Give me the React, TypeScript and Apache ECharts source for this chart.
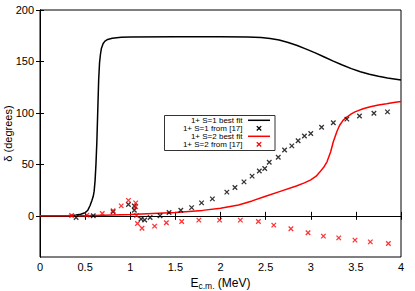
import React, { useEffect, useRef } from "react";
import * as echarts from "echarts";

const xTicks = [0, 0.5, 1, 1.5, 2, 2.5, 3, 3.5, 4];
const yTicks = [0, 50, 100, 150, 200];

const s1Fit: number[][] = [
  [0, 0], [0.3, 0.2], [0.4, 0.8], [0.45, 1.5], [0.5, 3], [0.53, 5.5], [0.555, 10], [0.575, 15],
  [0.59, 19], [0.6, 24], [0.61, 34], [0.62, 50], [0.63, 72], [0.64, 102], [0.65, 132],
  [0.66, 149], [0.67, 157], [0.68, 162.5], [0.7, 167.5], [0.72, 169.8], [0.75, 171.4],
  [0.8, 172.6], [0.9, 173.5], [1.0, 173.8], [1.5, 174], [2.0, 174], [2.3, 173.8], [2.45, 173.2],
  [2.55, 172.3], [2.65, 170.8], [2.75, 168.5], [2.85, 165.5], [2.95, 162], [3.05, 158.3],
  [3.15, 154.3], [3.25, 150.3], [3.35, 146.5], [3.45, 143], [3.55, 140], [3.65, 137.6],
  [3.75, 135.6], [3.85, 134], [4.0, 132],
];

const s1Data: number[][] = [
  [0.4, -1.6], [0.59, 0], [0.81, 4], [0.98, 11], [1.045, 9.5], [1.045, 5.5], [1.12, -3],
  [1.16, -4], [1.22, -1.6], [1.33, 0], [1.43, 3.3], [1.56, 5.5], [1.68, 8], [1.79, 12.6],
  [1.91, 16.5], [2.07, 23], [2.16, 27.6], [2.26, 33], [2.35, 38.6], [2.43, 43.5], [2.49, 46],
  [2.54, 52], [2.64, 57], [2.71, 64], [2.79, 68], [2.86, 73], [2.93, 77.5], [3.0, 80],
  [3.12, 86], [3.25, 90.5], [3.4, 94], [3.54, 97], [3.7, 99.6], [3.85, 101],
];

const s2Fit: number[][] = [
  [0, 0], [0.5, 0.2], [1.0, 1.3], [1.5, 3.3], [1.8, 5.3], [2.0, 7.3], [2.2, 10.5], [2.35, 14.5],
  [2.5, 19], [2.67, 24], [2.84, 29], [2.93, 32], [3.0, 35], [3.06, 38.5], [3.1, 42.5],
  [3.15, 48], [3.18, 52.5], [3.22, 62], [3.25, 72], [3.29, 82], [3.32, 88], [3.36, 93],
  [3.4, 96], [3.45, 99], [3.49, 101], [3.58, 104], [3.66, 106], [3.75, 107.7], [3.84, 109],
  [3.92, 110.2], [4.0, 111],
];

const s2Data: number[][] = [
  [0.35, 0.4], [0.52, 0.7], [0.69, 2.3], [0.81, 5], [0.9, 9.7], [0.98, 15], [1.06, 12.6],
  [1.06, 8.8], [1.07, 0.4], [1.08, -7.4], [1.13, -12], [1.27, -10], [1.4, -6.8], [1.57, -5.5],
  [1.76, -4.2], [1.99, -4.2], [2.22, -4.2], [2.42, -5.5], [2.59, -9], [2.78, -12.6],
  [2.97, -16.5], [3.14, -19.7], [3.31, -21.4], [3.49, -23.6], [3.66, -25.3], [3.86, -26.9],
];

const legendLabels = ["1+ S=1 best fit", "1+ S=1 from [17]", "1+ S=2 best fit", "1+ S=2 from [17]"];

const FONT = "Liberation Sans, Arial, sans-serif";
const CROSS = "path://M0,0L10,10M10,0L0,10";

function crossGraphic(cx: number, cy: number, color: string) {
  const r = 2.2;
  return [
    { type: "line", shape: { x1: cx - r, y1: cy - r, x2: cx + r, y2: cy + r }, style: { stroke: color, lineWidth: 1.3 } },
    { type: "line", shape: { x1: cx - r, y1: cy + r, x2: cx + r, y2: cy - r }, style: { stroke: color, lineWidth: 1.3 } },
  ];
}

export default function App() {
  const ref = useRef<HTMLDivElement>(null);
  useEffect(() => {
    if (!ref.current) return;
    const chart = echarts.init(ref.current, null, { renderer: "svg" });
    const rows = [120.3, 128.3, 136.3, 144.3];
    const colors = ["#000", "#000", "#ff0000", "#ff0000"];
    const legendEls: any[] = [
      { type: "rect", shape: { x: 164.5, y: 115.5, width: 110.5, height: 35 }, style: { fill: "#fff", stroke: "#333", lineWidth: 1 } },
    ];
    legendLabels.forEach((t, i) => {
      legendEls.push({
        type: "text", x: 242.5, y: rows[i],
        style: { text: t, fill: "#000", font: `8px ${FONT}`, textAlign: "right", textVerticalAlign: "middle" },
      });
      if (i % 2 === 0) {
        legendEls.push({ type: "line", shape: { x1: 248, y1: rows[i], x2: 270, y2: rows[i] }, style: { stroke: colors[i], lineWidth: 1.5 } });
      } else {
        legendEls.push(...crossGraphic(259, rows[i], colors[i]));
      }
    });
    legendEls.push({
      type: "text", x: 8, y: 133.5, rotation: Math.PI / 2,
      style: { text: "δ (degrees)", fill: "#000", font: `11px ${FONT}`, textAlign: "center", textVerticalAlign: "middle" },
    });

    const tickStyle = { show: true, inside: true, length: 4, lineStyle: { color: "#000" } };
    chart.setOption({
      animation: false,
      grid: {
        left: 40, right: 14, top: 10, bottom: 34, show: true, borderColor: "#000", borderWidth: 1,
        containLabel: false, outerBoundsMode: "none",
      },
      xAxis: [
        {
          type: "value", min: 0, max: 4, interval: 0.5, position: "bottom",
          axisLine: { show: true, lineStyle: { color: "#000" } },
          axisTick: tickStyle, splitLine: { show: false },
          axisLabel: { color: "#000", fontFamily: FONT, fontSize: 11, margin: 4 },
          name: "{a|E}{s|c.m.}{a| (MeV)}", nameLocation: "middle", nameGap: 15,
          nameTextStyle: {
            rich: {
              a: { fontFamily: FONT, fontSize: 12, color: "#000" },
              s: { fontFamily: FONT, fontSize: 8.5, color: "#000", verticalAlign: "bottom", padding: [7, 0, 0, 0] },
            },
          },
        },
        {
          type: "value", min: 0, max: 4, interval: 0.5, position: "top",
          axisLine: { show: true, lineStyle: { color: "#000" } },
          axisTick: tickStyle, axisLabel: { show: false }, splitLine: { show: false },
        },
      ],
      yAxis: [
        {
          type: "value", min: -40, max: 200, position: "left",
          axisLine: { show: true, lineStyle: { color: "#000" } },
          axisTick: { ...tickStyle, customValues: yTicks },
          splitLine: { show: false },
          axisLabel: { color: "#000", fontFamily: FONT, fontSize: 11, margin: 6, customValues: yTicks },
        },
        {
          type: "value", min: -40, max: 200, position: "right",
          axisLine: { show: true, lineStyle: { color: "#000" } },
          axisTick: { ...tickStyle, customValues: yTicks },
          axisLabel: { show: false }, splitLine: { show: false },
        },
      ],
      series: [
        {
          type: "line", data: s1Fit, showSymbol: false, smooth: false,
          lineStyle: { color: "#000", width: 1.5 }, z: 3,
        },
        {
          type: "scatter", data: s1Data, symbol: CROSS, symbolSize: 4.5,
          itemStyle: { color: "none", borderColor: "#000", borderWidth: 1.3 }, z: 4,
        },
        {
          type: "line", data: s2Fit, showSymbol: false, smooth: false,
          lineStyle: { color: "#ff0000", width: 1.5 }, z: 3,
        },
        {
          type: "scatter", data: s2Data, symbol: CROSS, symbolSize: 4.5,
          itemStyle: { color: "none", borderColor: "#ff0000", borderWidth: 1.3 }, z: 4,
        },
      ],
      graphic: legendEls,
    });
    return () => chart.dispose();
  }, []);
  return <div ref={ref} style={{ width: 415, height: 291, position: "absolute", left: 0, top: 0 }} />;
}
